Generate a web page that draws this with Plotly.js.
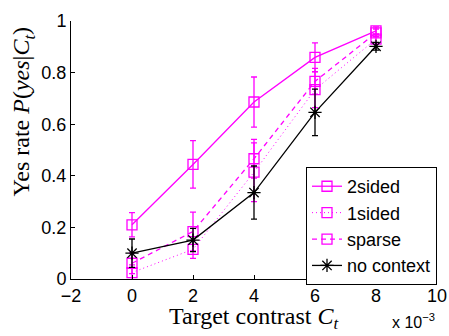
<!DOCTYPE html>
<html><head><meta charset="utf-8">
<script src="https://cdn.plot.ly/plotly-3.0.1.min.js"></script>
<style>html,body{margin:0;padding:0;background:#fff}#c{width:449px;height:336px}</style>
</head><body><div id="c"></div>
<script>
const contrast = [0, 2, 4, 6, 8];
const twoSided = [0.21, 0.444, 0.686, 0.859, 0.962];
const twoSidedErr = [0.047, 0.092, 0.097, 0.056, 0.015];
const oneSided = [0.025, 0.115, 0.414, 0.734, 0.93];
const oneSidedErr = [0.03, 0.035, 0.114, 0.07, 0.02];
const sparse = [0.061, 0.184, 0.466, 0.766, 0.954];
const sparseErr = [0.04, 0.075, 0.075, 0.05, 0.015];
const noContext = [0.10, 0.151, 0.335, 0.646, 0.902];
const noContextErr = [0.055, 0.045, 0.103, 0.09, 0.015];
const seriesNames = ['2sided', '1sided', 'sparse', 'no context'];
const xTicks = [-2, 0, 2, 4, 6, 8, 10];
const xTickText = ['\u22122', '0', '2', '4', '6', '8', '10'];
const yTicks = [0, 0.2, 0.4, 0.6, 0.8, 1];
const yTickText = ['0', '0.2', '0.4', '0.6', '0.8', '1'];

const mag = '#ff00ff';
function tr(name, y, err, color, dash, symbol, lw) {
  return {
    x: contrast, y: y, name: name, type: 'scatter', mode: 'lines+markers',
    line: {color: color, width: lw, dash: dash},
    marker: {symbol: symbol, size: symbol === 'square-open' ? 10 : 11, color: color, line: {color: color, width: 1.3}},
    error_y: {type: 'data', array: err, visible: true, color: color, thickness: 1.3, width: 3}
  };
}
const data = [
  tr(seriesNames[0], twoSided, twoSidedErr, mag, 'solid', 'square-open', 1.3),
  tr(seriesNames[1], oneSided, oneSidedErr, mag, '1px,3px', 'square-open', 1),
  tr(seriesNames[2], sparse, sparseErr, mag, '5px,4px', 'square-open', 1.3),
  tr(seriesNames[3], noContext, noContextErr, '#000000', 'solid', 'asterisk-open', 1.3)
];
const layout = {
  width: 449, height: 336,
  margin: {l: 71, r: 12, t: 21, b: 57},
  paper_bgcolor: '#fff', plot_bgcolor: '#fff',
  font: {family: 'Liberation Sans, Arial, sans-serif', size: 18, color: '#000'},
  showlegend: true,
  legend: {x: 1.0, y: 0.434, xanchor: 'right', yanchor: 'top', bgcolor: '#fff',
    bordercolor: '#000', borderwidth: 1, font: {size: 18}, tracegroupgap: 0, itemwidth: 30},
  xaxis: {range: [-2, 10], tickvals: xTicks, ticktext: xTickText, ticks: 'inside', ticklen: 4,
    tickcolor: '#000', showline: true, linecolor: '#000', linewidth: 1, showgrid: false, zeroline: false,
    tickfont: {size: 18}, ticklabelstandoff: 0},
  yaxis: {range: [0, 1], tickvals: yTicks, ticktext: yTickText, ticks: 'inside', ticklen: 4,
    tickcolor: '#000', showline: true, linecolor: '#000', linewidth: 1, showgrid: false, zeroline: false,
    tickfont: {size: 18}},
  annotations: [
    {text: 'Target contrast <i>C<sub>t</sub></i>', xref: 'paper', yref: 'paper', x: 0.5, y: -0.086,
     xanchor: 'center', yanchor: 'top', showarrow: false,
     font: {family: 'Liberation Serif, Times New Roman, serif', size: 24, color: '#000'}},
    {text: 'Yes rate <i>P</i>(<i>yes</i>|<i>C<sub>t</sub></i>)', xref: 'paper', yref: 'paper',
     x: -0.131, y: 0.649, xanchor: 'center', yanchor: 'middle', textangle: -90, showarrow: false,
     font: {family: 'Liberation Serif, Times New Roman, serif', size: 24, color: '#000'}},
    {text: 'x 10<sup>\u22123</sup>', xref: 'paper', yref: 'paper', x: 1.0, y: -0.115,
     xanchor: 'right', yanchor: 'top', showarrow: false,
     font: {family: 'Liberation Sans, Arial, sans-serif', size: 16, color: '#000'}}
  ]
};
Plotly.newPlot('c', data, layout, {staticPlot: true, displayModeBar: false});
</script></body></html>
